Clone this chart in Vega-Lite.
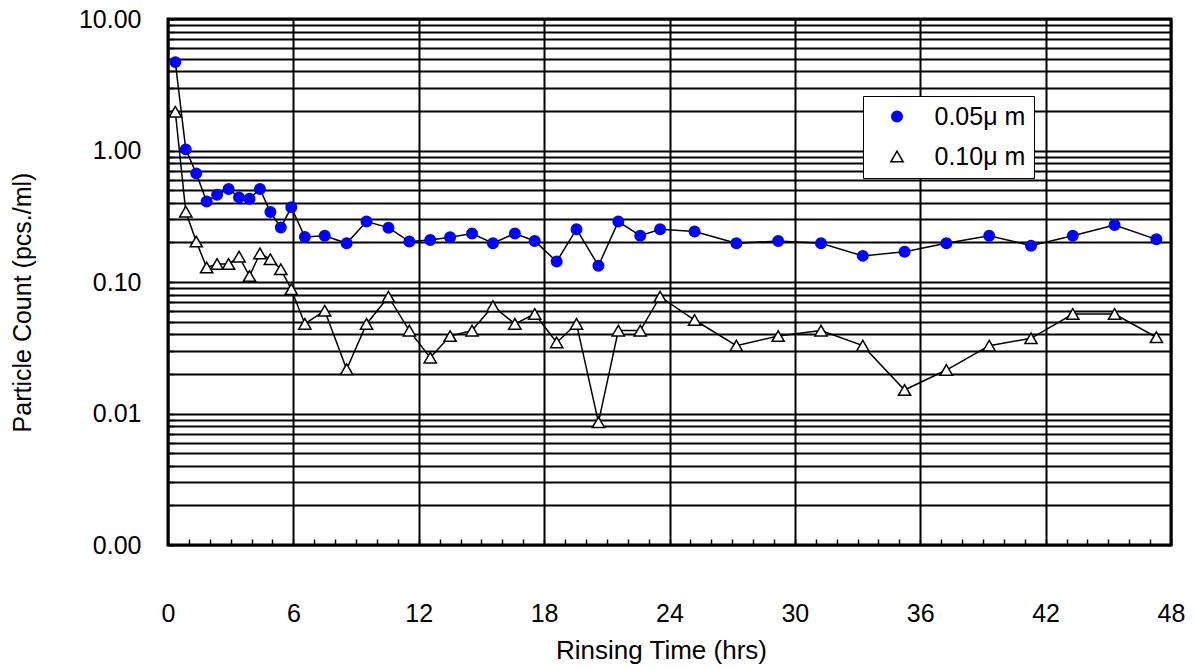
{
  "$schema": "https://vega.github.io/schema/vega-lite/v6.json",
  "width": 1003,
  "height": 526,
  "autosize": {"type": "none"},
  "padding": {"left": 168, "top": 19, "right": 24, "bottom": 123},
  "background": "white",
  "config": {
    "view": {"stroke": "black", "strokeWidth": 3},
    "legend": {
      "orient": "none", "legendX": 695, "legendY": 77,
      "padding": 8, "fillColor": "white", "strokeColor": "black",
      "labelFont": "Liberation Sans", "labelFontSize": 25, "labelColor": "black",
      "symbolSize": 121, "symbolStrokeWidth": 1.5, "symbolOffset": 13.5, "labelOffset": 25,
      "rowPadding": 14, "labelLimit": 0
    }
  },
  "data": {"values": [
    {"time": 0.35, "count": 4.7, "size": "0.05μ m"},
    {"time": 0.85, "count": 1.02, "size": "0.05μ m"},
    {"time": 1.35, "count": 0.67, "size": "0.05μ m"},
    {"time": 1.85, "count": 0.41, "size": "0.05μ m"},
    {"time": 2.35, "count": 0.46, "size": "0.05μ m"},
    {"time": 2.9, "count": 0.51, "size": "0.05μ m"},
    {"time": 3.4, "count": 0.44, "size": "0.05μ m"},
    {"time": 3.9, "count": 0.43, "size": "0.05μ m"},
    {"time": 4.4, "count": 0.51, "size": "0.05μ m"},
    {"time": 4.9, "count": 0.34, "size": "0.05μ m"},
    {"time": 5.4, "count": 0.26, "size": "0.05μ m"},
    {"time": 5.9, "count": 0.37, "size": "0.05μ m"},
    {"time": 6.55, "count": 0.22, "size": "0.05μ m"},
    {"time": 7.5, "count": 0.225, "size": "0.05μ m"},
    {"time": 8.55, "count": 0.197, "size": "0.05μ m"},
    {"time": 9.5, "count": 0.288, "size": "0.05μ m"},
    {"time": 10.55, "count": 0.259, "size": "0.05μ m"},
    {"time": 11.55, "count": 0.203, "size": "0.05μ m"},
    {"time": 12.55, "count": 0.209, "size": "0.05μ m"},
    {"time": 13.5, "count": 0.219, "size": "0.05μ m"},
    {"time": 14.55, "count": 0.234, "size": "0.05μ m"},
    {"time": 15.55, "count": 0.197, "size": "0.05μ m"},
    {"time": 16.6, "count": 0.234, "size": "0.05μ m"},
    {"time": 17.55, "count": 0.205, "size": "0.05μ m"},
    {"time": 18.6, "count": 0.143, "size": "0.05μ m"},
    {"time": 19.55, "count": 0.252, "size": "0.05μ m"},
    {"time": 20.6, "count": 0.133, "size": "0.05μ m"},
    {"time": 21.55, "count": 0.288, "size": "0.05μ m"},
    {"time": 22.6, "count": 0.225, "size": "0.05μ m"},
    {"time": 23.55, "count": 0.252, "size": "0.05μ m"},
    {"time": 25.2, "count": 0.242, "size": "0.05μ m"},
    {"time": 27.2, "count": 0.197, "size": "0.05μ m"},
    {"time": 29.2, "count": 0.205, "size": "0.05μ m"},
    {"time": 31.25, "count": 0.197, "size": "0.05μ m"},
    {"time": 33.25, "count": 0.158, "size": "0.05μ m"},
    {"time": 35.25, "count": 0.17, "size": "0.05μ m"},
    {"time": 37.25, "count": 0.197, "size": "0.05μ m"},
    {"time": 39.3, "count": 0.225, "size": "0.05μ m"},
    {"time": 41.3, "count": 0.189, "size": "0.05μ m"},
    {"time": 43.3, "count": 0.225, "size": "0.05μ m"},
    {"time": 45.3, "count": 0.271, "size": "0.05μ m"},
    {"time": 47.3, "count": 0.211, "size": "0.05μ m"},
    {"time": 0.35, "count": 1.97, "size": "0.10μ m"},
    {"time": 0.85, "count": 0.343, "size": "0.10μ m"},
    {"time": 1.35, "count": 0.203, "size": "0.10μ m"},
    {"time": 1.85, "count": 0.129, "size": "0.10μ m"},
    {"time": 2.35, "count": 0.137, "size": "0.10μ m"},
    {"time": 2.9, "count": 0.137, "size": "0.10μ m"},
    {"time": 3.4, "count": 0.156, "size": "0.10μ m"},
    {"time": 3.9, "count": 0.111, "size": "0.10μ m"},
    {"time": 4.4, "count": 0.165, "size": "0.10μ m"},
    {"time": 4.9, "count": 0.149, "size": "0.10μ m"},
    {"time": 5.4, "count": 0.125, "size": "0.10μ m"},
    {"time": 5.9, "count": 0.088, "size": "0.10μ m"},
    {"time": 6.55, "count": 0.048, "size": "0.10μ m"},
    {"time": 7.5, "count": 0.0605, "size": "0.10μ m"},
    {"time": 8.55, "count": 0.0217, "size": "0.10μ m"},
    {"time": 9.5, "count": 0.048, "size": "0.10μ m"},
    {"time": 10.55, "count": 0.0773, "size": "0.10μ m"},
    {"time": 11.55, "count": 0.0427, "size": "0.10μ m"},
    {"time": 12.55, "count": 0.0266, "size": "0.10μ m"},
    {"time": 13.5, "count": 0.0388, "size": "0.10μ m"},
    {"time": 14.55, "count": 0.0427, "size": "0.10μ m"},
    {"time": 15.55, "count": 0.0656, "size": "0.10μ m"},
    {"time": 16.6, "count": 0.048, "size": "0.10μ m"},
    {"time": 17.55, "count": 0.0571, "size": "0.10μ m"},
    {"time": 18.6, "count": 0.0347, "size": "0.10μ m"},
    {"time": 19.55, "count": 0.048, "size": "0.10μ m"},
    {"time": 20.6, "count": 0.00857, "size": "0.10μ m"},
    {"time": 21.55, "count": 0.0427, "size": "0.10μ m"},
    {"time": 22.6, "count": 0.0427, "size": "0.10μ m"},
    {"time": 23.55, "count": 0.0773, "size": "0.10μ m"},
    {"time": 25.2, "count": 0.0514, "size": "0.10μ m"},
    {"time": 27.2, "count": 0.0328, "size": "0.10μ m"},
    {"time": 29.2, "count": 0.0388, "size": "0.10μ m"},
    {"time": 31.25, "count": 0.0427, "size": "0.10μ m"},
    {"time": 33.25, "count": 0.0328, "size": "0.10μ m"},
    {"time": 35.25, "count": 0.0151, "size": "0.10μ m"},
    {"time": 37.25, "count": 0.0214, "size": "0.10μ m"},
    {"time": 39.3, "count": 0.0328, "size": "0.10μ m"},
    {"time": 41.3, "count": 0.0373, "size": "0.10μ m"},
    {"time": 43.3, "count": 0.0571, "size": "0.10μ m"},
    {"time": 45.3, "count": 0.0571, "size": "0.10μ m"},
    {"time": 47.3, "count": 0.038, "size": "0.10μ m"}
  ]},
  "encoding": {
    "x": {
      "field": "time", "type": "quantitative",
      "scale": {"domain": [0, 48], "nice": false, "zero": false},
      "axis": {
        "values": [0,1,2,3,4,5,6,7,8,9,10,11,12,13,14,15,16,17,18,19,20,21,22,23,24,25,26,27,28,29,30,31,32,33,34,35,36,37,38,39,40,41,42,43,44,45,46,47,48],
        "labelExpr": "datum.value % 6 === 0 ? datum.label : ''",
        "grid": true, "gridColor": "black", "gridWidth": 2,
        "gridOpacity": {"condition": {"test": "datum.value % 6 === 0", "value": 1}, "value": 0},
        "ticks": true, "tickSize": -6, "tickWidth": 1.5, "tickColor": "black",
        "domain": false,
        "labelFont": "Liberation Sans", "labelFontSize": 25, "labelColor": "black",
        "labelPadding": 62, "labelAngle": 0, "labelOverlap": false, "labelFlush": false, "labelBaseline": "top",
        "title": "Rinsing Time (hrs)", "titleFont": "Liberation Sans", "titleFontSize": 26,
        "titleFontWeight": "normal", "titleColor": "black",
        "titleX": 493, "titleY": 113, "titleAlign": "center", "titleBaseline": "alphabetic", "titleAngle": 0
      }
    },
    "y": {
      "field": "count", "type": "quantitative",
      "scale": {"type": "log", "domain": [0.001, 10], "nice": false},
      "axis": {
        "values": [0.001,0.002,0.003,0.004,0.005,0.006,0.007,0.008,0.009,0.01,0.02,0.03,0.04,0.05,0.06,0.07,0.08,0.09,0.1,0.2,0.3,0.4,0.5,0.6,0.7,0.8,0.9,1,2,3,4,5,6,7,8,9,10],
        "labelExpr": "(datum.value == 0.001 || datum.value == 0.01 || datum.value == 0.1 || datum.value == 1 || datum.value == 10) ? format(datum.value, '.2f') : ''",
        "grid": true, "gridColor": "black", "gridWidth": 1.8, "gridOpacity": 1,
        "ticks": true, "tickSize": -6, "tickWidth": 1.5, "tickColor": "black",
        "domain": false,
        "labelFont": "Liberation Sans", "labelFontSize": 25, "labelColor": "black",
        "labelPadding": 33, "labelOverlap": false, "labelFlush": false, "labelBaseline": "middle",
        "title": "Particle Count (pcs./ml)", "titleFont": "Liberation Sans", "titleFontSize": 25,
        "titleFontWeight": "normal", "titleColor": "black",
        "titleX": -138, "titleY": 283, "titleAngle": 270, "titleAlign": "center", "titleBaseline": "alphabetic"
      }
    }
  },
  "layer": [
    {
      "mark": {"type": "line", "color": "black", "strokeWidth": 1.5},
      "encoding": {"detail": {"field": "size", "type": "nominal"}}
    },
    {
      "mark": {"type": "point", "filled": true, "strokeWidth": 1.5, "opacity": 1},
      "encoding": {
        "shape": {
          "field": "size", "type": "nominal",
          "scale": {"domain": ["0.05μ m", "0.10μ m"], "range": ["circle", "triangle-up"]},
          "legend": {"title": null}
        },
        "fill": {
          "field": "size", "type": "nominal",
          "scale": {"domain": ["0.05μ m", "0.10μ m"], "range": ["#0000FF", "white"]}
        },
        "stroke": {
          "field": "size", "type": "nominal",
          "scale": {"domain": ["0.05μ m", "0.10μ m"], "range": ["#0000FF", "black"]}
        },
        "size": {
          "field": "size", "type": "ordinal",
          "scale": {"domain": ["0.05μ m", "0.10μ m"], "range": [110, 150]}
        }
      }
    }
  ]
}
